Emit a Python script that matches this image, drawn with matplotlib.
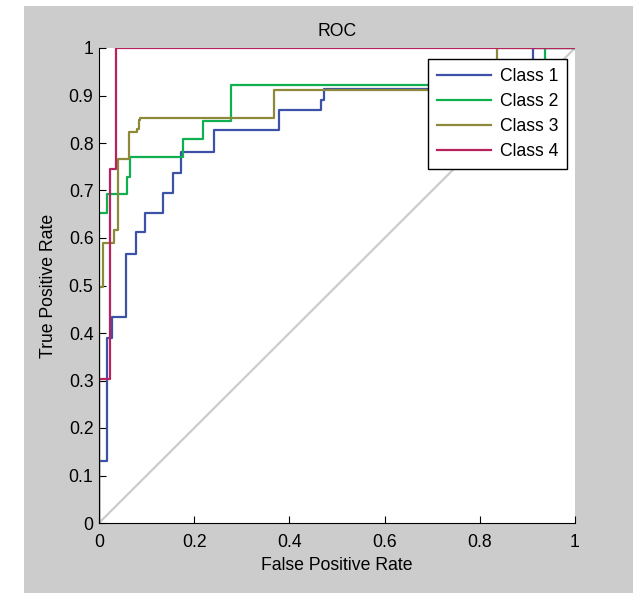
import numpy as np
import matplotlib
matplotlib.use('Agg')
import matplotlib.pyplot as plt
from matplotlib.patches import Rectangle

plt.rcParams['font.family'] = ['Liberation Sans', 'DejaVu Sans']

# step ROC curves (fpr, tpr)
fpr1 = [0, 0, 0.0175, 0.0175, 0.027, 0.027, 0.056, 0.056, 0.077, 0.077, 0.097, 0.097,
        0.135, 0.135, 0.156, 0.156, 0.172, 0.172, 0.242, 0.242, 0.378, 0.378, 0.466,
        0.466, 0.473, 0.473, 0.912, 0.912, 1]
tpr1 = [0, 0.13, 0.13, 0.39, 0.39, 0.434, 0.434, 0.566, 0.566, 0.612, 0.612, 0.653,
        0.653, 0.694, 0.694, 0.737, 0.737, 0.782, 0.782, 0.827, 0.827, 0.869, 0.869,
        0.89, 0.89, 0.913, 0.913, 1, 1]

fpr2 = [0, 0, 0.0175, 0.0175, 0.058, 0.058, 0.066, 0.066, 0.177, 0.177, 0.219, 0.219,
        0.277, 0.277, 0.938, 0.938, 1]
tpr2 = [0, 0.653, 0.653, 0.692, 0.692, 0.729, 0.729, 0.771, 0.771, 0.808, 0.808, 0.847,
        0.847, 0.923, 0.923, 1, 1]

fpr3 = [0, 0, 0.009, 0.009, 0.032, 0.032, 0.039, 0.039, 0.064, 0.064, 0.079, 0.079,
        0.083, 0.083, 0.086, 0.086, 0.368, 0.368, 0.837, 0.837, 1]
tpr3 = [0, 0.497, 0.497, 0.59, 0.59, 0.617, 0.617, 0.766, 0.766, 0.824, 0.824, 0.83,
        0.83, 0.848, 0.848, 0.853, 0.853, 0.912, 0.912, 1, 1]

fpr4 = [0, 0, 0.023, 0.023, 0.035, 0.035, 1]
tpr4 = [0, 0.303, 0.303, 0.745, 0.745, 1, 1]

labels = ['Class 1', 'Class 2', 'Class 3', 'Class 4']
colors = ['#3c52a8', '#10b050', '#8c8a3a', '#b8235f']

W, H = 633, 593
FS = 12.7
fig = plt.figure(figsize=(W / 100, H / 100), dpi=100)
fig.patch.set_facecolor('white')
fig.patches.append(Rectangle((24 / W, 0), 1 - 24 / W, 1 - 6 / H,
                             transform=fig.transFigure, facecolor='#cccccc',
                             edgecolor='none', zorder=-10))

ax = fig.add_axes([99 / W, (H - 523) / H, 476 / W, 475 / H])
ax.set_facecolor('white')

ax.plot([0, 1], [0, 1], color='#cccccc', lw=1.6)
for f, t, c, l in zip([fpr1, fpr2, fpr3, fpr4], [tpr1, tpr2, tpr3, tpr4], colors, labels):
    ax.plot(f, t, color=c, lw=1.6, label=l)

ax.set_xlim(0, 1)
ax.set_ylim(0, 1)
ax.set_xticks(np.arange(0, 1.01, 0.2))
ax.set_xticklabels(['0', '0.2', '0.4', '0.6', '0.8', '1'])
ax.set_yticks(np.arange(0, 1.01, 0.1))
ax.set_yticklabels(['0', '0.1', '0.2', '0.3', '0.4', '0.5', '0.6', '0.7', '0.8', '0.9', '1'])
ax.tick_params(direction='in', length=5, width=0.8, labelsize=FS)
ax.tick_params(axis='x', pad=8)
ax.tick_params(axis='y', pad=4)
ax.spines['top'].set_visible(False)
ax.spines['right'].set_visible(False)

ax.set_title('ROC', fontsize=FS, pad=8.5)
ax.set_xlabel('False Positive Rate', fontsize=FS, labelpad=4.5)
ax.set_ylabel('True Positive Rate', fontsize=FS, labelpad=8.5)

leg = ax.legend(loc='upper right', bbox_to_anchor=(0.983, 0.976), borderaxespad=0,
                fontsize=FS, handlelength=3.1, fancybox=False, framealpha=1,
                edgecolor='black', labelspacing=0.45, borderpad=0.5, handletextpad=0.47)
leg.get_frame().set_linewidth(1.0)

fig.savefig('out.png', dpi=100)
